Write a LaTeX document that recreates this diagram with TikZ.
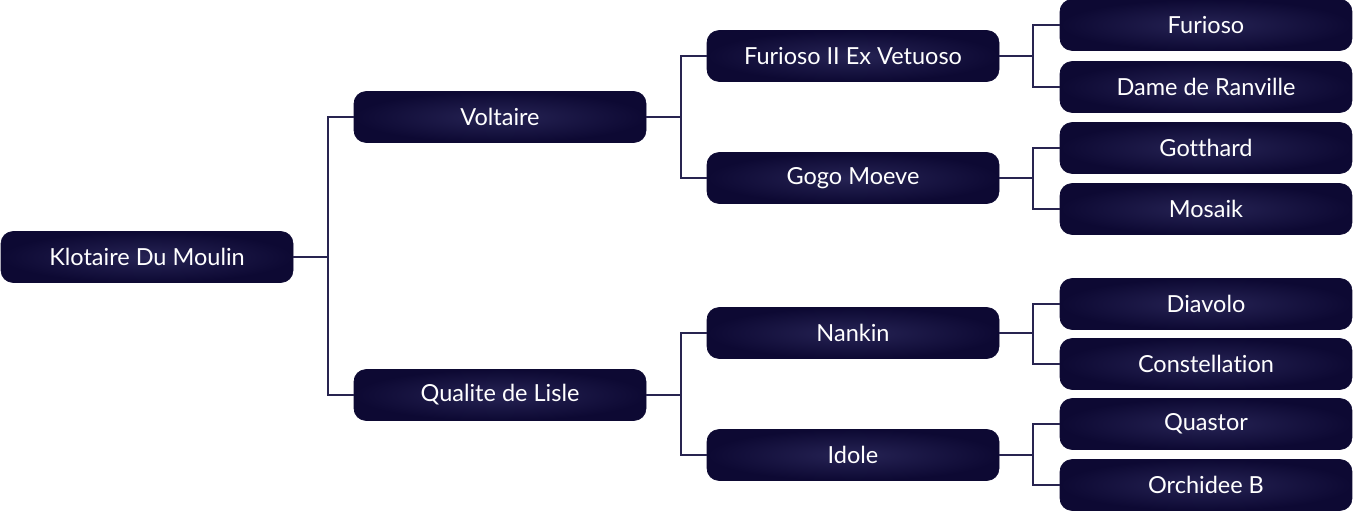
\documentclass[tikz,border=0pt]{standalone}
\usepackage{fontspec}
\setmainfont{Lato}[Ligatures=NoCommon]
\usepackage{tikz}
\usetikzlibrary{calc}

\definecolor{navyedge}{RGB}{13,9,51}
\definecolor{navyglow}{RGB}{38,35,84}
\definecolor{linkcol}{RGB}{40,36,80}

\tikzset{
  horse/.style={rounded corners=12pt,minimum width=292pt,minimum height=51pt,
    inner color=navyglow,outer color=navyedge,draw=navyedge,line width=0.6pt,
    text=white,font=\fontsize{23.5}{26}\selectfont,inner sep=0pt},
  link/.style={draw=linkcol,line width=1.8pt}
}

\begin{document}
\begin{tikzpicture}[x=1pt,y=-1pt]
            \useasboundingbox (0,0) rectangle (1353,513);

            % ancestors, generation by generation
            \node[horse] (kl) at (147,257) {Klotaire Du Moulin};

            \node[horse] (vo) at (500,117) {Voltaire};
            \node[horse] (ql) at (500,395) {Qualite de Lisle};

            \node[horse] (fe) at (853,56) {Furioso II Ex Vetuoso};
            \node[horse] (gm) at (853,178) {Gogo Moeve};
            \node[horse] (na) at (853,333) {Nankin};
            \node[horse] (id) at (853,455) {Idole};

            \node[horse] (fu) at (1206,25) {Furioso};
            \node[horse] (dr) at (1206,87) {Dame de Ranville};
            \node[horse] (go) at (1206,148) {Gotthard};
            \node[horse] (mo) at (1206,209) {Mosaik};
            \node[horse] (di) at (1206,304) {Diavolo};
            \node[horse] (co) at (1206,364) {Constellation};
            \node[horse] (qu) at (1206,424) {Quastor};
            \node[horse] (oc) at (1206,485) {Orchidee B};

            % brackets
            \draw[link] (kl.east) -- ++(35,0) |- (vo.west);
            \draw[link] (kl.east) -- ++(35,0) |- (ql.west);

            \draw[link] (vo.east) -- ++(35,0) |- (fe.west);
            \draw[link] (vo.east) -- ++(35,0) |- (gm.west);
            \draw[link] (ql.east) -- ++(35,0) |- (na.west);
            \draw[link] (ql.east) -- ++(35,0) |- (id.west);

            \draw[link] (fe.east) -- ++(34,0) |- (fu.west);
            \draw[link] (fe.east) -- ++(34,0) |- (dr.west);
            \draw[link] (gm.east) -- ++(34,0) |- (go.west);
            \draw[link] (gm.east) -- ++(34,0) |- (mo.west);
            \draw[link] (na.east) -- ++(34,0) |- (di.west);
            \draw[link] (na.east) -- ++(34,0) |- (co.west);
            \draw[link] (id.east) -- ++(34,0) |- (qu.west);
            \draw[link] (id.east) -- ++(34,0) |- (oc.west);
\end{tikzpicture}
\end{document}
